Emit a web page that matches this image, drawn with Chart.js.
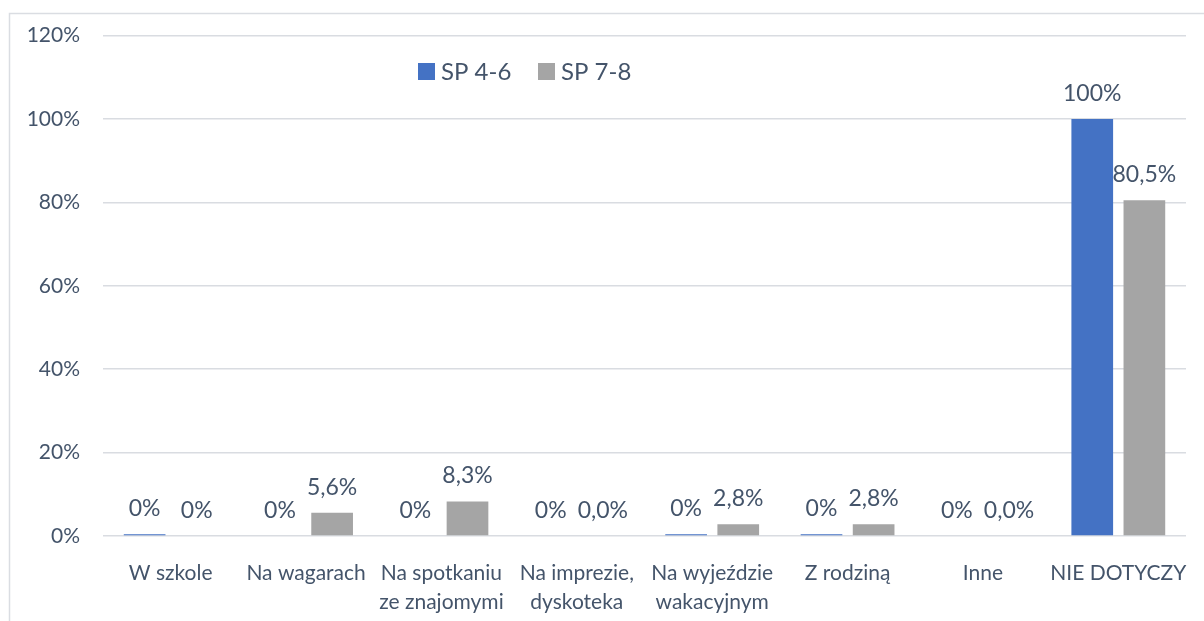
<!DOCTYPE html>
<html>
<head>
<meta charset="utf-8">
<script src="https://cdn.jsdelivr.net/npm/chart.js@4/dist/chart.umd.min.js"></script>
<style>
    body { margin: 0; background: #fff; }
    #wrap { width: 1204px; height: 621px; position: relative; }
</style>
</head>
<body>
<div id="wrap"><canvas id="chart1"></canvas></div>
<script>
// data
var categories = [
    "W szkole", "Na wagarach", ["Na spotkaniu", "ze znajomymi"], ["Na imprezie,", "dyskoteka"],
    ["Na wyjeździe", "wakacyjnym"], "Z rodziną", "Inne", "NIE DOTYCZY"
];
var seriesNames = ["SP 4-6", "SP 7-8"];
var sp46Values = [0.4, 0, 0, 0, 0.4, 0.4, 0, 100];
var sp78Values = [0, 5.6, 8.3, 0, 2.8, 2.8, 0, 80.5];
var sp46Labels = ["0%", "0%", "0%", "0%", "0%", "0%", "0%", "100%"];
var sp78Labels = ["0%", "5,6%", "8,3%", "0,0%", "2,8%", "2,8%", "0,0%", "80,5%"];
var yTicks = [0, 20, 40, 60, 80, 100, 120];

var textColor = '#44546a';
var fontFamily = 'Lato, "Open Sans", sans-serif';

// outer frame like the office chart box
var framePlugin = {
    id: 'frame',
    beforeDraw: function (chart) {
        var ctx = chart.ctx;
        ctx.save();
        ctx.strokeStyle = '#dadde2';
        ctx.lineWidth = 1.5;
        ctx.strokeRect(9.5, 13.5, 1400, 800);
        ctx.restore();
    }
};

// value labels above each bar
var barLabelsPlugin = {
    id: 'barLabels',
    afterDatasetsDraw: function (chart) {
        var ctx = chart.ctx;
        ctx.save();
        ctx.font = '23px ' + fontFamily;
        ctx.fillStyle = textColor;
        ctx.textAlign = 'center';
        ctx.textBaseline = 'alphabetic';
        chart.data.datasets.forEach(function (ds, i) {
            var meta = chart.getDatasetMeta(i);
            meta.data.forEach(function (bar, j) {
                ctx.fillText(ds.valueLabels[j], bar.x, bar.y - 18);
            });
        });
        ctx.restore();
    }
};

// legend sits inside the plot, left of center
var legendPlugin = {
    id: 'insideLegend',
    afterDraw: function (chart) {
        var ctx = chart.ctx;
        var x = 418, y = 63;
        ctx.save();
        ctx.font = '24px ' + fontFamily;
        ctx.textBaseline = 'middle';
        chart.data.datasets.forEach(function (ds) {
            ctx.fillStyle = ds.backgroundColor;
            ctx.fillRect(x, y, 17, 17);
            ctx.fillStyle = textColor;
            ctx.fillText(ds.label, x + 23, y + 9);
            x += 120;
        });
        ctx.restore();
    }
};

var ctxChart1 = document.getElementById('chart1').getContext('2d');
var chart1 = new Chart(ctxChart1, {
    type: 'bar',
    plugins: [framePlugin, barLabelsPlugin, legendPlugin],
    data: {
        labels: categories,
        datasets: [{
            label: seriesNames[0],
            data: sp46Values,
            valueLabels: sp46Labels,
            backgroundColor: '#4472c4',
            categoryPercentage: 0.77,
            barPercentage: 0.8
        }, {
            label: seriesNames[1],
            data: sp78Values,
            valueLabels: sp78Labels,
            backgroundColor: '#a5a5a5',
            categoryPercentage: 0.77,
            barPercentage: 0.8
        }]
    }, options: {
        responsive: true,
        maintainAspectRatio: false,
        animation: false,
        layout: { padding: { top: 32, right: 18, bottom: 0, left: 0 } },
        plugins: {
            legend: { display: false },
            title: { display: false },
            tooltip: { enabled: false }
        }, scales: {
            x: {
                grid: { display: false },
                border: { display: false },
                ticks: {
                    color: textColor,
                    font: { family: fontFamily, size: 21, lineHeight: 1.38 },
                    padding: 15,
                    maxRotation: 0,
                    autoSkip: false
                },
                afterFit: function (scale) { scale.height = 85; }
            },
            y: {
                min: 0,
                max: 120,
                afterBuildTicks: function (scale) {
                    scale.ticks = yTicks.map(function (v) { return { value: v }; });
                },
                grid: { color: '#d9dce1', lineWidth: 1.5, drawTicks: false },
                border: { display: false },
                ticks: {
                    color: textColor,
                    font: { family: fontFamily, size: 21 },
                    padding: 23,
                    callback: function (v) { return v + '%'; }
                },
                afterFit: function (scale) { scale.width = 103; }
            }
        }
    }
});
</script>
</body>
</html>
